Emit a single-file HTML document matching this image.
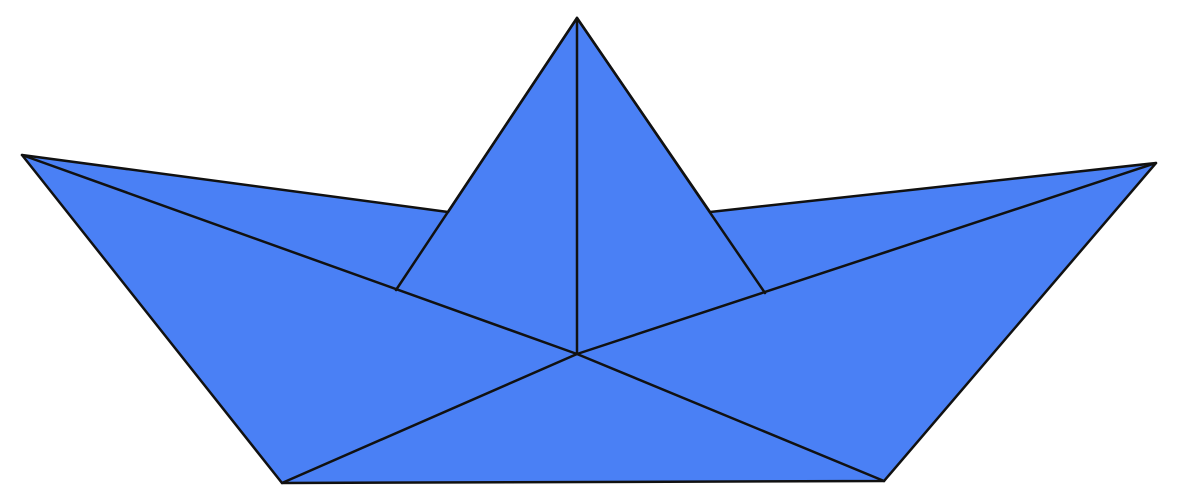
<!DOCTYPE html>
<html>
<head>
<meta charset="utf-8">
<style>
html,body{margin:0;padding:0;background:#fff;}
svg{display:block;}
</style>
</head>
<body>
<svg width="1181" height="487" viewBox="0 0 1181 487">
  <polygon
    points="22,155 448,212 577,18 710,212 1156,163 884,481 282,483"
    fill="#4a80f5" stroke="#111" stroke-width="2.5" stroke-linejoin="round"/>
  <g stroke="#111" stroke-width="2.5" fill="none" stroke-linecap="round">
    <line x1="22" y1="155" x2="577" y2="354"/>
    <line x1="1156" y1="163" x2="577" y2="354"/>
    <line x1="577" y1="354" x2="282" y2="483"/>
    <line x1="577" y1="354" x2="884" y2="481"/>
    <line x1="577" y1="18" x2="577" y2="354"/>
    <line x1="577" y1="18" x2="396" y2="290"/>
    <line x1="577" y1="18" x2="765" y2="293"/>
  </g>
</svg>
</body>
</html>
